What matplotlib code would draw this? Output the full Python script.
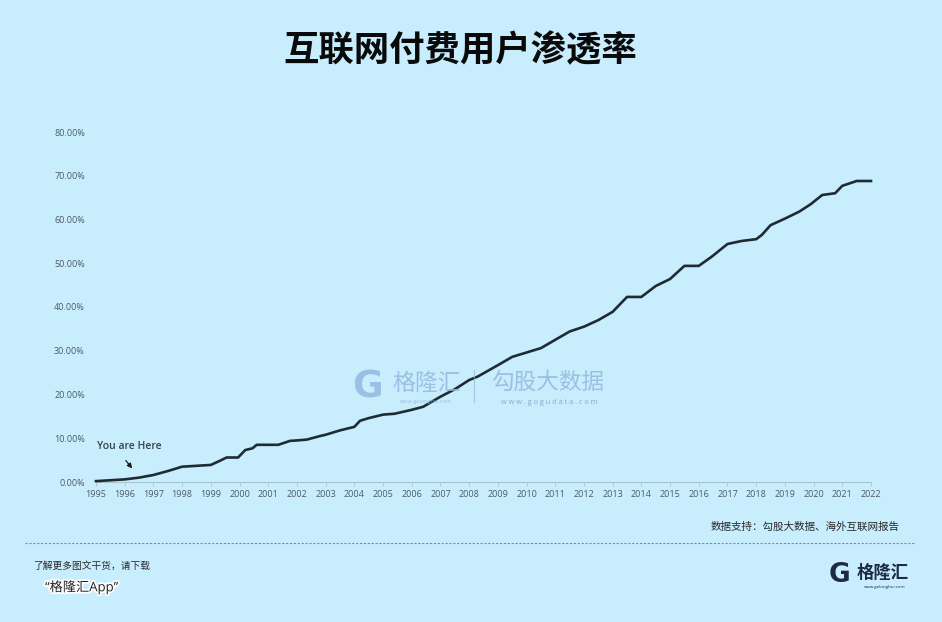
import matplotlib
matplotlib.use("Agg")
import matplotlib.pyplot as plt
import matplotlib.patheffects as pe
from matplotlib.ticker import PercentFormatter

plt.rcParams['font.family'] = ['Open Sans', 'Noto Sans CJK SC', 'DejaVu Sans']

# penetration of paying internet users
years = [1995.0, 1996.0, 1996.5, 1997.0, 1997.5, 1998.0, 1998.5, 1999.0, 1999.3,
         1999.55, 1999.95, 2000.2, 2000.45, 2000.6, 2001.0, 2001.35, 2001.76,
         2002.0, 2002.35, 2002.8, 2003.0, 2003.5, 2004.0, 2004.2, 2004.5,
         2005.0, 2005.4, 2006.0, 2006.4, 2007.0, 2007.5, 2008.0, 2008.3,
         2009.0, 2009.5, 2010.0, 2010.5, 2011.0, 2011.5, 2012.0, 2012.5,
         2013.0, 2013.5, 2014.0, 2014.5, 2015.0, 2015.5, 2016.0, 2016.45,
         2017.0, 2017.5, 2018.0, 2018.2, 2018.5, 2019.0, 2019.5, 2019.9,
         2020.3, 2020.75, 2021.0, 2021.5, 2022.0]
rate = [0.2, 0.6, 1.0, 1.6, 2.5, 3.5, 3.7, 3.9, 4.8,
        5.6, 5.6, 7.3, 7.7, 8.5, 8.5, 8.5, 9.4,
        9.5, 9.7, 10.5, 10.8, 11.8, 12.6, 14.0, 14.6,
        15.4, 15.6, 16.5, 17.2, 19.5, 21.2, 23.3, 24.1,
        26.7, 28.6, 29.6, 30.6, 32.5, 34.4, 35.5, 37.0,
        38.9, 42.3, 42.3, 44.8, 46.4, 49.4, 49.4, 51.5,
        54.4, 55.1, 55.5, 56.5, 58.7, 60.2, 61.8, 63.5,
        65.6, 66.0, 67.7, 68.8, 68.8]
rate = [r / 100 for r in rate]

xticks = list(range(1995, 2023))
yticks = [0, 0.1, 0.2, 0.3, 0.4, 0.5, 0.6, 0.7, 0.8]

bg = "#c8edfd"
tick_col = "#4d5b64"

fig = plt.figure(figsize=(9.42, 6.22), dpi=100, facecolor=bg)
ax = fig.add_axes([96 / 942, 1 - 482 / 622, 775 / 942, 350 / 622])
ax.set_facecolor(bg)

# watermark behind the line
wm = "#93b9df"
fig.text(352 / 942, 1 - 388 / 622, "G", fontsize=27, fontweight="bold", color=wm,
         family="DejaVu Sans", va="center", ha="left", alpha=0.85)
fig.text(392 / 942, 1 - 384 / 622, "格隆汇", fontsize=16.5, color=wm,
         va="center", ha="left", alpha=0.85)
fig.text(426 / 942, 1 - 402 / 622, "www.gelonghui.com", fontsize=4, color=wm,
         va="center", ha="center", alpha=0.85)
fig.add_artist(plt.Line2D([474 / 942, 474 / 942], [1 - 402 / 622, 1 - 370 / 622],
                          color=wm, lw=0.8, alpha=0.7))
fig.text(548 / 942, 1 - 383 / 622, "勾股大数据", fontsize=16.3, color=wm,
         va="center", ha="center", alpha=0.85)
fig.text(549 / 942, 1 - 402 / 622, "w w w . g o g u d a t a . c o m", fontsize=5.3,
         color="#7fa6cf", va="center", ha="center", alpha=0.9)

ax.plot(years, rate, color="#1f2b33", lw=1.9, solid_joinstyle="round",
        clip_on=False, zorder=3)

ax.set_xlim(1995, 2022)
ax.set_ylim(0, 0.8)
ax.set_xticks(xticks)
ax.set_yticks(yticks)
ax.yaxis.set_major_formatter(PercentFormatter(1, decimals=2))
ax.tick_params(axis="y", length=0, pad=8, labelsize=6.5, labelcolor=tick_col)
ax.tick_params(axis="x", length=3, width=0.6, color="#a9c3cf", pad=3,
               labelsize=6.5, labelcolor=tick_col)
for s in ["top", "right", "left"]:
    ax.spines[s].set_visible(False)
ax.spines["bottom"].set_color("#a9c3cf")
ax.spines["bottom"].set_linewidth(0.8)

ax.text(1995.03, 0.082, "You are Here", fontsize=7.5, color="#34424b",
        fontweight="semibold", va="center", ha="left")
ax.annotate("", xy=(1996.32, 0.026), xytext=(1995.98, 0.054),
            arrowprops=dict(arrowstyle="-|>", color="#1a1a1a", lw=0.9,
                            mutation_scale=7))

fig.text(460 / 942, 1 - 52 / 622, "互联网付费用户渗透率", fontsize=25.5,
         fontweight="bold", color="#0a0a0a", ha="center", va="center")

fig.text(900 / 942, 1 - 527 / 622, "数据支持：勾股大数据、海外互联网报告",
         fontsize=7.6, color="#2a2a2a", ha="right", va="center")

fig.add_artist(plt.Line2D([25 / 942, 915 / 942], [1 - 543 / 622, 1 - 543 / 622],
                          color="#7f8c93", lw=0.8, ls=(0, (2, 1.5))))

fig.text(33 / 942, 1 - 566 / 622, "了解更多图文干货，请下载", fontsize=7,
         color="#2a2a2a", style="italic", ha="left", va="center")
fig.text(45 / 942, 1 - 587 / 622, "“格隆汇App”", fontsize=9.5, color="#222222",
         ha="left", va="center",
         path_effects=[pe.withStroke(linewidth=2.5, foreground="white")])

fig.text(829 / 942, 1 - 575 / 622, "G", fontsize=19, fontweight="bold",
         color="#1c2a44", family="DejaVu Sans", ha="left", va="center")
fig.text(857 / 942, 1 - 573 / 622, "格隆汇", fontsize=12.5, fontweight="bold",
         color="#1c2a44", ha="left", va="center")
fig.text(885 / 942, 1 - 587 / 622, "www.gelonghui.com", fontsize=3.2,
         color="#1c2a44", ha="center", va="center")

fig.savefig("out.png", dpi=100, facecolor=bg)
